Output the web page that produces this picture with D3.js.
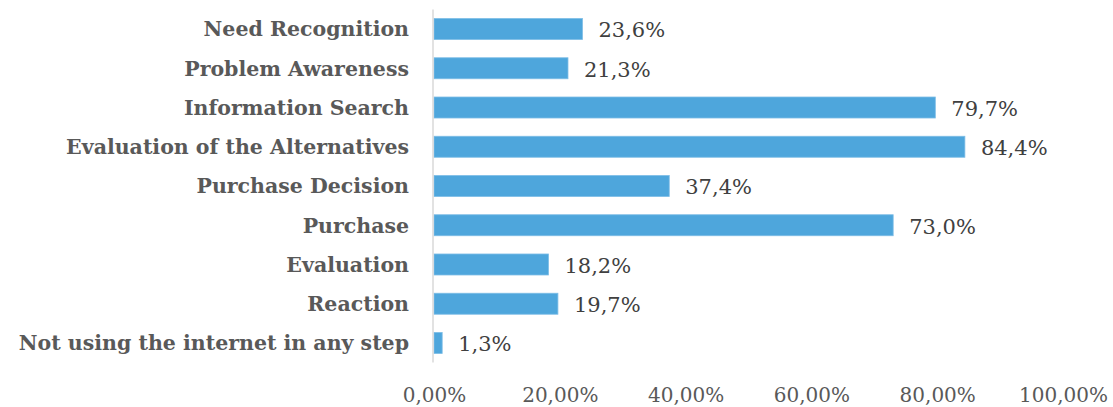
<!DOCTYPE html>
<html>
<head>
<meta charset="utf-8">
<script src="https://cdn.jsdelivr.net/npm/d3@7"></script>
<style>
  html, body { margin: 0; padding: 0; background: #fff; }
  svg { display: block; }
</style>
</head>
<body>
<svg id="chart" width="1113" height="407"></svg>
<script>
// Steps of the buying process and share of respondents using the internet in each
const steps = [
  "Need Recognition",
  "Problem Awareness",
  "Information Search",
  "Evaluation of the Alternatives",
  "Purchase Decision",
  "Purchase",
  "Evaluation",
  "Reaction",
  "Not using the internet in any step"
];
const shares = [23.6, 21.3, 79.7, 84.4, 37.4, 73.0, 18.2, 19.7, 1.3];
const tickValues = [0, 20, 40, 60, 80, 100];

const svg = d3.select("#chart");
const font = "'DejaVu Serif', 'Times New Roman', serif";

const x = d3.scaleLinear().domain([0, 100]).range([434, 1063]);
const y = d3.scaleBand().domain(steps).range([9.4, 362.6]).paddingInner(0.465).paddingOuter(0.2325);

const fmtValue = v => v.toFixed(1).replace(".", ",") + "%";
const fmtTick = v => v.toFixed(2).replace(".", ",") + "%";

// bars
svg.append("g").selectAll("rect")
  .data(steps)
  .join("rect")
  .attr("x", x(0))
  .attr("y", d => y(d))
  .attr("width", (d, i) => x(shares[i]) - x(0))
  .attr("height", y.bandwidth())
  .attr("fill", "#4ea6dc")
  .attr("stroke", "#7dbde6")
  .attr("stroke-width", 0.8);

// vertical category axis line
svg.append("line")
  .attr("x1", 433).attr("x2", 433)
  .attr("y1", 9.4).attr("y2", 362.6)
  .attr("stroke", "#d9d9d9")
  .attr("stroke-width", 1.5);

// category labels
svg.append("g").selectAll("text")
  .data(steps)
  .join("text")
  .attr("x", 409)
  .attr("y", d => y(d) + y.bandwidth() / 2)
  .attr("dy", "0.36em")
  .attr("text-anchor", "end")
  .attr("font-family", font)
  .attr("font-weight", "bold")
  .attr("font-size", 20.5)
  .attr("fill", "#595959")
  .text(d => d);

// value labels
svg.append("g").selectAll("text")
  .data(steps)
  .join("text")
  .attr("x", (d, i) => x(shares[i]) + 16)
  .attr("y", d => y(d) + y.bandwidth() / 2)
  .attr("dy", "0.4em")
  .attr("font-family", font)
  .attr("font-size", 21)
  .attr("fill", "#404040")
  .text((d, i) => fmtValue(shares[i]));

// bottom value axis (labels only)
const xAxis = d3.axisBottom(x).tickValues(tickValues).tickFormat(fmtTick).tickSize(0).tickPadding(0);
const gx = svg.append("g").attr("transform", "translate(0,402)").call(xAxis);
gx.select(".domain").remove();
gx.attr("font-family", font);
gx.selectAll("text")
  .attr("font-size", 20)
  .attr("fill", "#595959")
  .attr("dy", 0);
</script>
</body>
</html>
